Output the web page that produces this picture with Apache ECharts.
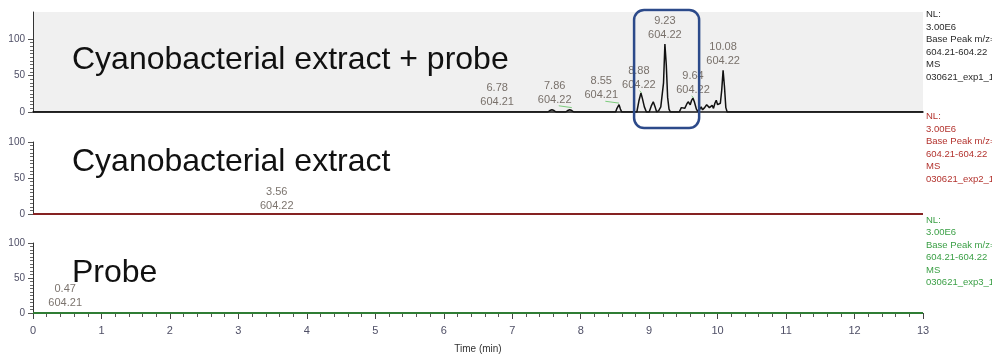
<!DOCTYPE html>
<html>
<head>
<meta charset="utf-8">
<script src="https://cdn.jsdelivr.net/npm/echarts@6/dist/echarts.min.js"></script>
<style>
  html, body { margin: 0; padding: 0; background: #fff; }
  #chart { width: 992px; height: 355px; }
</style>
</head>
<body>
<div id="chart"></div>
<script>
// Time axis (min) and relative abundance axis (%)
const timeRange = [0, 13];
const abundanceTicks = [0, 50, 100];

// Extracted-ion chromatograms: [retention time (min), relative abundance (%)]
const probeExtractTrace = [
  [0, 0], [7.52, 0], [7.55, 2], [7.58, 3], [7.61, 2], [7.64, 0],
  [7.78, 0], [7.81, 2], [7.84, 3], [7.87, 2], [7.90, 0],
  [8.51, 0], [8.53, 5], [8.56, 10], [8.58, 4], [8.60, 0],
  [8.82, 0], [8.85, 15], [8.88, 26], [8.90, 19], [8.93, 7], [8.96, 0],
  [9.00, 0], [9.03, 8], [9.06, 14], [9.09, 6], [9.11, 0],
  [9.14, 2], [9.17, 7], [9.19, 5], [9.21, 40], [9.23, 93], [9.25, 65], [9.27, 20], [9.29, 4], [9.31, 0],
  [9.44, 0], [9.47, 6], [9.49, 8], [9.52, 5], [9.55, 11], [9.57, 14], [9.60, 10], [9.62, 16], [9.64, 19],
  [9.66, 14], [9.69, 4], [9.71, 1],
  [9.74, 4], [9.76, 7], [9.78, 3], [9.81, 6], [9.84, 10], [9.86, 12], [9.88, 6], [9.90, 8], [9.92, 9],
  [9.94, 5], [9.96, 12], [9.98, 16], [10.00, 10], [10.02, 8], [10.04, 12], [10.06, 30], [10.08, 57],
  [10.10, 35], [10.12, 6], [10.14, 0], [13, 0]
];
const extractTrace = [[0, 0], [13, 0]];
const probeTrace = [[0, 0], [13, 0]];

// Annotated peaks: retention time (min) and m/z
const probeExtractPeakRT = [6.78, 7.86, 8.55, 8.88, 9.23, 9.64, 10.08];
const probeExtractPeakMz = [604.21, 604.22, 604.21, 604.22, 604.22, 604.22, 604.22];
const extractPeakRT = [3.56];
const extractPeakMz = [604.22];
const probePeakRT = [0.47];
const probePeakMz = [604.21];

// Panel captions and scan header text
const panelTitles = ['Cyanobacterial extract + probe', 'Cyanobacterial extract', 'Probe'];
const normLevels = ['3.00E6', '3.00E6', '3.00E6'];
const massRanges = ['604.21-604.22', '604.21-604.22', '604.21-604.22'];
const rawFiles = ['030621_exp1_1', '030621_exp2_1', '030621_exp3_1'];

// ---- layout / styling ----
const FONT = 'Liberation Sans, Arial, sans-serif';
const traceColors = ['#111111', '#852222', '#2f7d34'];
const headerColors = ['#2a2a2a', '#b3332e', '#3a9f45'];
const tickLabelColor = '#4f4f66';
const peakLabelColor = '#5a5048';
const leaderColor = '#7ccb7c';

// where each peak label sits: horizontal nudge (min) and height above baseline (%)
const probeExtractLabelShift = [0, -0.24, -0.25, -0.03, 0, 0, 0];
const probeExtractLabelLift = [4, 7.5, 13.7, 28, 96, 21, 60];
const extractLabelLift = [2];
const probeLabelLift = [4];

const grids = [
  { left: 33, right: 69, top: 12, height: 100, show: true, backgroundColor: '#f0f0f0', borderWidth: 0 }, // backdrop of panel 1
  { left: 33, right: 69, top: 39, height: 73 },   // panel 1
  { left: 33, right: 69, top: 142, height: 72 },  // panel 2
  { left: 33, right: 69, top: 243, height: 75 }   // panel 3
];

function xAxisFor(gridIndex, opts) {
  return Object.assign({
    type: 'value', gridIndex, min: timeRange[0], max: timeRange[1], interval: 1,
    axisLine: { show: false }, axisTick: { show: false }, axisLabel: { show: false },
    splitLine: { show: false }, minorTick: { show: false }
  }, opts || {});
}

function abundanceAxis(gridIndex) {
  return {
    type: 'value', gridIndex, min: abundanceTicks[0], max: abundanceTicks[2],
    interval: abundanceTicks[1] - abundanceTicks[0],
    axisLine: { show: true, lineStyle: { color: '#333', width: 1 } },
    axisTick: { show: true, length: 5, lineStyle: { color: '#555' } },
    minorTick: { show: true, splitNumber: 10, length: 3, lineStyle: { color: '#666' } },
    axisLabel: { fontSize: 10, color: tickLabelColor, fontFamily: FONT, margin: 8 },
    splitLine: { show: false }
  };
}

function peakLabelSeries(axisIndex, rts, mzs, shifts, lifts) {
  return {
    type: 'scatter', xAxisIndex: axisIndex, yAxisIndex: axisIndex,
    symbolSize: 0, silent: true, z: 5,
    data: rts.map((rt, i) => ({
      value: [rt + (shifts ? shifts[i] : 0), lifts[i]],
      name: rt.toFixed(2) + '\n' + mzs[i].toFixed(2)
    })),
    label: {
      show: true, position: 'top', distance: 0, formatter: '{b}',
      fontSize: 11, lineHeight: 14, color: peakLabelColor, fontFamily: FONT, align: 'center'
    }
  };
}

// short green leader strokes linking labels to their peaks
const leaderPairs = probeExtractPeakRT.map((rt, i) => {
  const shift = probeExtractLabelShift[i];
  const h = probeExtractLabelLift[i];
  const start = shift < -0.1 ? rt + shift + 0.06 : rt - 0.02;
  return [{ coord: [start, h + 1] }, { coord: [rt + 0.01, h - 1.5] }];
}).filter((_, i) => i !== 0 && i !== 4 && i !== 6);

const chart = echarts.init(document.getElementById('chart'), null, { renderer: 'canvas' });

const option = {
  animation: false,
  backgroundColor: '#ffffff',
  grid: grids,
  xAxis: [
    xAxisFor(0),
    xAxisFor(1, { axisLine: { show: true, lineStyle: { color: '#111', width: 1.5 } } }),
    xAxisFor(2),
    xAxisFor(3, {
      axisLine: { show: true, lineStyle: { color: '#333', width: 1 } },
      axisTick: { show: true, length: 6, lineStyle: { color: '#444' } },
      minorTick: { show: true, splitNumber: 5, length: 4, lineStyle: { color: '#555' } },
      axisLabel: { show: true, fontSize: 11, color: tickLabelColor, fontFamily: FONT, margin: 12 },
      name: 'Time (min)', nameLocation: 'middle', nameGap: 31,
      nameTextStyle: { fontSize: 10, color: '#333', fontFamily: FONT }
    })
  ],
  yAxis: [
    {
      type: 'value', gridIndex: 0, min: 0, max: 1,
      axisLine: { show: true, lineStyle: { color: '#333', width: 1 } },
      axisTick: { show: false }, axisLabel: { show: false }, splitLine: { show: false }
    },
    Object.assign(abundanceAxis(1), { axisLine: { show: false } }),
    abundanceAxis(2),
    abundanceAxis(3)
  ],
  series: [
    { type: 'line', xAxisIndex: 0, yAxisIndex: 0, data: [], silent: true },
    {
      type: 'line', xAxisIndex: 1, yAxisIndex: 1, data: probeExtractTrace,
      showSymbol: false, silent: true, z: 3,
      lineStyle: { color: traceColors[0], width: 1.5 },
      markLine: {
        silent: true, symbol: ['none', 'none'], animation: false,
        label: { show: false },
        lineStyle: { color: leaderColor, width: 1, type: 'solid' },
        data: leaderPairs
      }
    },
    {
      type: 'line', xAxisIndex: 2, yAxisIndex: 2, data: extractTrace,
      showSymbol: false, silent: true, z: 3,
      lineStyle: { color: traceColors[1], width: 2.2 }
    },
    {
      type: 'line', xAxisIndex: 3, yAxisIndex: 3, data: probeTrace,
      showSymbol: false, silent: true, z: 3,
      lineStyle: { color: traceColors[2], width: 2.2 }
    },
    peakLabelSeries(1, probeExtractPeakRT, probeExtractPeakMz, probeExtractLabelShift, probeExtractLabelLift),
    peakLabelSeries(2, extractPeakRT, extractPeakMz, null, extractLabelLift),
    peakLabelSeries(3, probePeakRT, probePeakMz, null, probeLabelLift)
  ]
};

chart.setOption(option);

// Panel captions, scan headers and the highlight box around the 9.23 min region
const captionTop = [44, 146, 257];
const headerTop = [8.5, 110.5, 214];
const graphics = [];

panelTitles.forEach((t, i) => {
  graphics.push({
    type: 'text', left: 72, top: captionTop[i], silent: true, z: 10,
    style: { text: t, font: '32px ' + FONT, fill: '#111' }
  });
});

rawFiles.forEach((f, i) => {
  graphics.push({
    type: 'text', x: 926, y: headerTop[i], silent: true, z: 10,
    style: {
      text: ['NL:', normLevels[i], 'Base Peak m/z=', massRanges[i], 'MS', f].join('\n'),
      font: '9.5px ' + FONT, fill: headerColors[i], lineHeight: 12.5, verticalAlign: 'top'
    }
  });
});

const boxLeft = chart.convertToPixel({ xAxisIndex: 1 }, 8.78);
const boxRight = chart.convertToPixel({ xAxisIndex: 1 }, 9.73);
const zeroY = chart.convertToPixel({ yAxisIndex: 1 }, 0);
graphics.push({
  type: 'rect', silent: true, z: 12,
  shape: { x: boxLeft, y: 10, width: boxRight - boxLeft, height: zeroY + 16 - 10, r: 10 },
  style: { fill: 'none', stroke: '#2c4a8a', lineWidth: 2.5 }
});

chart.setOption({ graphic: graphics });
</script>
</body>
</html>
